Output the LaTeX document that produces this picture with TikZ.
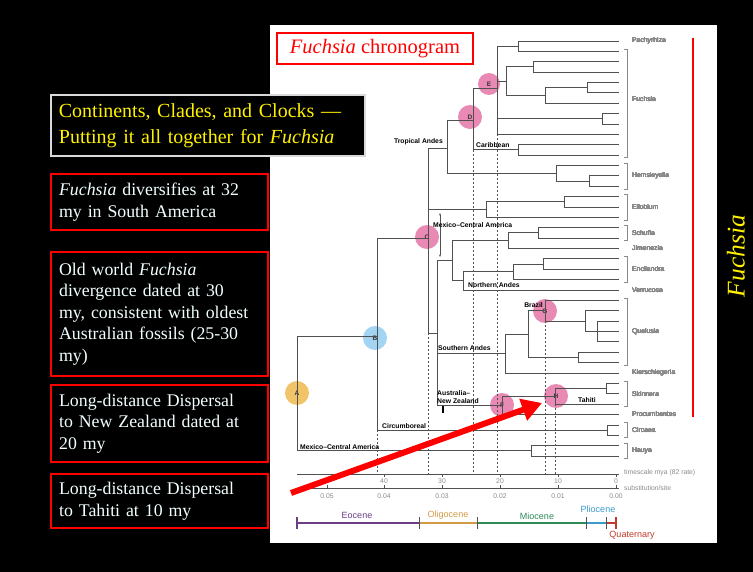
\documentclass[tikz,border=0pt]{standalone}
\usepackage{fontspec}
\setmainfont{Liberation Serif}
\setsansfont{Liberation Sans}
\usetikzlibrary{arrows.meta}

\definecolor{treegray}{HTML}{505050}
\definecolor{labelgray}{HTML}{8A8A8A}
\definecolor{nodepink}{HTML}{E98AB4}
\definecolor{nodeblue}{HTML}{A3D5F2}
\definecolor{nodeorange}{HTML}{F2C46A}
\definecolor{eocene}{HTML}{6B3F86}
\definecolor{oligocene}{HTML}{D39A45}
\definecolor{miocene}{HTML}{2E8B57}
\definecolor{pliocene}{HTML}{3A9CCB}
\definecolor{quaternary}{HTML}{C0392B}
\definecolor{notewhite}{HTML}{F2FFFF}

\tikzset{
  branch/.style={treegray, line width=0.8pt},
  ageline/.style={treegray, line width=0.45pt, dash pattern=on 2pt off 2pt},
  clade/.style={circle, minimum size=24pt, inner sep=0pt, text=black!80, font=\sffamily\bfseries\fontsize{6.5}{7}\selectfont},
  area/.style={font=\sffamily\bfseries\fontsize{6.8}{7.4}\selectfont, inner sep=0pt},
  taxon/.style={font=\sffamily\fontsize{6.8}{8}\selectfont, text=labelgray, anchor=west, inner sep=0pt},
  notebox/.style={draw=red, line width=2.2pt, fill=black, text=notewhite, anchor=north west,
    align=left, text width=201pt, inner xsep=8pt, font=\fontsize{17.8}{21.5}\selectfont},
  epoch/.style={font=\sffamily\fontsize{9}{10}\selectfont},
}

% cherry: two tips joined at x
\newcommand{\cherry}[3]{\draw[branch] (619,#2) -| (#1,#3) -- (619,#3);}
% single branch out to the tips
\newcommand{\twig}[2]{\draw[branch] (#1,#2) -- (619,#2);}
% bracket in front of a genus/section name
\newcommand{\brak}[2]{\draw[labelgray, line width=0.7pt] (624,#1) -- (627,#1) -- (627,#2) -- (624,#2);}

\begin{document}
\begin{tikzpicture}[x=1pt,y=-1pt]
  \fill[black] (0,0) rectangle (753,572);
  \fill[white] (270,25) rectangle (717,543);

  % divergence nodes
  \node[clade, fill=nodeorange] (cA) at (297,393) {A};
  \node[clade, fill=nodeblue] (cB) at (375,338) {B};
  \node[clade, fill=nodepink] (cC) at (427,237) {C};
  \node[clade, fill=nodepink] (cD) at (470,117) {D};
  \node[clade, fill=nodepink, minimum size=22pt] (cE) at (489,84) {E};
  \node[clade, fill=nodepink] (cF) at (502,405) {F};
  \node[clade, fill=nodepink] (cG) at (545,311) {G};
  \node[clade, fill=nodepink] (cH) at (556,396) {H};

  % ages of the nodes
  \draw[ageline] (377,430) -- (377,474);
  \draw[ageline] (428,333) -- (428,474);
  \draw[ageline] (473,149.9) -- (473,474);
  \draw[ageline] (497,134.4) -- (497,474);
  \draw[ageline] (545,321.1) -- (545,474);
  \draw[ageline] (555,404.1) -- (555,474);

  % Fuchsia + Pachyrhiza
  \cherry{518}{41}{51.4}
  \cherry{533}{61.75}{72.1}
  \cherry{587}{82.5}{92.9}
  \twig{545}{103.25}
  \draw[branch] (545,87.7) -- (587,87.7) (545,87.7) -- (545,103.25);
  \draw[branch] (506,66.9) -- (533,66.9) (506,95.5) -- (545,95.5) (506,66.9) -- (506,95.5);
  \cherry{602}{113.6}{124}
  \twig{497}{134.4}
  \draw[branch] (497,46.2) -- (518,46.2) (497,81.2) -- (506,81.2) (497,118.8) -- (602,118.8) (497,46.2) -- (497,134.4);
  \cherry{518}{144.75}{155.1}
  \draw[branch] (473,88) -- (497,88) (473,149.9) -- (518,149.9) (473,88) -- (473,149.9);
  % Hemsleyella
  \cherry{589}{175.9}{186.25}
  \twig{556}{165.5}
  \draw[branch] (556,165.5) -- (556,181) -- (589,181);
  \draw[branch] (447,120) -- (473,120) (447,173.3) -- (556,173.3) (447,120) -- (447,173.3);
  % Ellobium
  \cherry{564}{196.6}{207}
  \twig{486}{217.4}
  \draw[branch] (486,201.8) -- (564,201.8) (486,201.8) -- (486,217.4);
  % Schufia, Jimenezia
  \cherry{538}{227.75}{238.1}
  \twig{508}{248.5}
  \draw[branch] (508,232.9) -- (538,232.9) (508,232.9) -- (508,248.5);
  % Encliandra, Verrucosa
  \cherry{543}{258.9}{269.25}
  \twig{513}{279.6}
  \draw[branch] (513,264) -- (543,264) (513,264) -- (513,279.6);
  \twig{463}{290}
  \draw[branch] (463,271.8) -- (513,271.8) (463,271.8) -- (463,290);
  \draw[branch] (452,240.7) -- (508,240.7) (452,280.9) -- (463,280.9) (452,240.7) -- (452,280.9);
  % Quelusia, Kierschlegeria
  \cherry{578}{352.25}{362.6}
  \draw[branch] (619,321.1) -- (597,321.1) -- (597,341.9) -- (619,341.9) (597,331.5) -- (619,331.5);
  \twig{585}{310.75}
  \draw[branch] (585,310.75) -- (585,331.5) -- (597,331.5);
  \twig{545}{300.4}
  \draw[branch] (545,300.4) -- (545,321.1) -- (585,321.1);
  \draw[branch] (528,310.75) -- (545,310.75) (528,357.4) -- (578,357.4) (528,310.75) -- (528,357.4);
  \twig{505}{373}
  \draw[branch] (505,334) -- (528,334) (505,334) -- (505,373);
  % Skinnera, Procumbentes
  \cherry{606}{383.4}{393.75}
  \twig{555}{404.1}
  \draw[branch] (555,388.6) -- (606,388.6) (555,388.6) -- (555,404.1);
  \twig{502}{414.5}
  \draw[branch] (502,396.3) -- (555,396.3) (502,396.3) -- (502,414.5);
  \draw[black, line width=1.8pt] (443,405.5) -- (443,413);
  \draw[branch] (437,260.8) -- (452,260.8) (437,353.5) -- (505,353.5) (437,405.4) -- (502,405.4) (437,260.8) -- (437,405.4);
  \draw[branch] (428,148) -- (447,148) (428,209.6) -- (486,209.6) (428,333) -- (437,333) (428,148) -- (428,333);
  % Circaea, Hauya and the root
  \cherry{607}{424.9}{435.25}
  \draw[branch] (377,238) -- (428,238) (377,430) -- (607,430) (377,238) -- (377,430);
  \cherry{531}{445.6}{456}
  \draw[branch] (297,336) -- (377,336) (297,450.8) -- (531,450.8) (297,336) -- (297,450.8);
  \draw[treegray, line width=0.5pt, {Stealth[length=2.5pt]}-{Stealth[length=2.5pt]}] (440,213) -- (440,257);

  % areas
  \node[area, anchor=base east] (tropand) at (443,144) {Tropical Andes};
  \node[area, anchor=base west] (carib) at (476,147.5) {Caribbean};
  \node[area, anchor=base west] (mexca) at (433,228) {Mexico--Central America};
  \node[area, anchor=base west] (northand) at (468,287.5) {Northern Andes};
  \node[area, anchor=base east] (brazil) at (543,307.5) {Brazil};
  \node[area, anchor=base west] (southand) at (438,350.5) {Southern Andes};
  \node[area, anchor=south west, align=left] (ausnz) at (437,403.5) {Australia--\\New Zealand};
  \node[area, anchor=base west] (tahiti) at (578,402.5) {Tahiti};
  \node[area, anchor=base west] (circum) at (382,428) {Circumboreal};
  \node[area, anchor=base west] (mexcb) at (300,449) {Mexico--Central America};

  % tip names
  \foreach \a/\b in {49/157.5, 163/189, 194/220, 225/240.5, 256.5/282, 298/365, 381/406.5, 422.5/437.5, 443/458.5}
    \brak{\a}{\b}
  \foreach \ty/\taxname in {41/Pachyrhiza, 99/Fuchsia, 176/Hemsleyella, 207/Ellobium, 233/Schufia, 248.5/Jimenezia,
      269/Encliandra, 290/Verrucosa, 331.5/Quelusia, 373/Kierschlegeria, 394/Skinnera, 414.5/Procumbentes,
      430/Circaea, 451/Hauya}
    \node[taxon] (tx-\taxname) at (632,\ty) {\taxname};

  % time axes
  \draw[treegray, line width=0.7pt] (297,474) -- (619,474);
  \draw[treegray, line width=0.7pt] (297,488) -- (619,488);
  \foreach \t/\x in {40/384, 30/442, 20/500, 10/558, 0/616} {
    \draw[treegray, line width=0.6pt] (\x,474) -- (\x,477);
    \node[taxon, anchor=center] (my-\t) at (\x,481) {\t};
  }
  \foreach \s/\x in {0.05/327, 0.04/384, 0.03/442, 0.02/500, 0.01/558, 0.00/616} {
    \draw[treegray, line width=0.6pt] (\x,488) -- (\x,485);
    \node[taxon, anchor=center] (ss-\s) at (\x,496.5) {\s};
  }
  \node[taxon] (mya) at (624,473) {timescale mya (82 rate)};
  \node[taxon] (subst) at (624,488) {substitution/site};

  % epochs
  \draw[eocene, line width=1.2pt] (297,517) -- (297,529) (297,523) -- (419,523);
  \draw[oligocene, line width=1.2pt] (419,523) -- (477,523);
  \draw[miocene, line width=1.2pt] (477,523) -- (586,523);
  \draw[pliocene, line width=1.2pt] (586,523) -- (606,523);
  \draw[quaternary, line width=1.2pt] (606,523) -- (616,523) (616,517) -- (616,529);
  \foreach \x in {419, 477, 586, 606}
    \draw[treegray, line width=1pt] (\x,517) -- (\x,529);
  \node[epoch, text=eocene] (eoc) at (357,515) {Eocene};
  \node[epoch, text=oligocene] (oli) at (448,515) {Oligocene};
  \node[epoch, text=miocene] (mio) at (537,516) {Miocene};
  \node[epoch, text=pliocene] (pli) at (598,509) {Pliocene};
  \node[epoch, text=quaternary] (qua) at (632,535) {Quaternary};

  % headings
  \node[draw=red, line width=1.8pt, fill=white, text=red, minimum width=196pt, minimum height=31pt,
    font=\fontsize{20.5}{22}\selectfont] (title) at (375,48.5) {\textit{Fuchsia} chronogram};
  \draw[red, line width=2pt] (693,38) -- (693,417);
  \node[rotate=90, text=yellow, font=\itshape\fontsize{25.5}{27}\selectfont] (side) at (736,256) {Fuchsia};
  \node[draw=white!85!black, line width=1.8pt, fill=black, text=yellow, anchor=north west, align=left,
    text width=298pt, inner xsep=8pt, minimum height=61pt, font=\fontsize{20}{26}\selectfont] (head) at (50,94)
    {Continents, Clades, and Clocks ---\\Putting it all together for \textit{Fuchsia}};

  % notes
  \node[notebox, minimum height=56pt] (note1) at (50,173)
    {\textit{Fuchsia} diversifies at 32\\my in South America};
  \node[notebox, minimum height=124pt] (note2) at (50,251)
    {Old world \textit{Fuchsia}\\divergence dated at 30\\my, consistent with oldest\\Australian fossils (25-30\\my)};
  \node[notebox, minimum height=77pt] (note3) at (50,384)
    {Long-distance Dispersal\\to New Zealand dated at\\20 my};
  \node[notebox, minimum height=54pt] (note4) at (50,473)
    {Long-distance Dispersal\\to Tahiti at 10 my};

  \coordinate (arrtail) at (291,493);
  \coordinate (arrtip) at (542,403);
  \draw[red, line width=6pt, -{Triangle[length=20pt, width=22pt]}] (arrtail) -- (arrtip);
\end{tikzpicture}
\end{document}
